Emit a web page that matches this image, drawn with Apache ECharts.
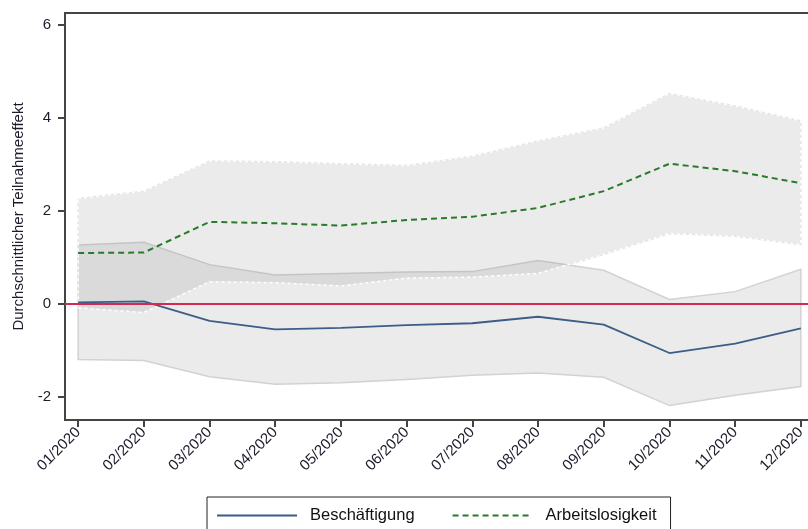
<!DOCTYPE html>
<html>
<head>
<meta charset="utf-8">
<script src="https://cdn.jsdelivr.net/npm/echarts@6/dist/echarts.min.js"></script>
<style>
html,body{margin:0;padding:0;background:#fff;}
#chart{width:808px;height:529px;}
</style>
</head>
<body>
<div id="chart"></div>
<script>
const months = ['01/2020','02/2020','03/2020','04/2020','05/2020','06/2020','07/2020','08/2020','09/2020','10/2020','11/2020','12/2020'];
const beschaeftigung = [0.03, 0.05, -0.37, -0.55, -0.52, -0.46, -0.42, -0.28, -0.45, -1.06, -0.86, -0.53];
const beschLower = [-1.20, -1.22, -1.57, -1.73, -1.70, -1.63, -1.54, -1.49, -1.58, -2.19, -1.97, -1.78];
const beschUpper = [1.26, 1.32, 0.84, 0.62, 0.65, 0.68, 0.69, 0.93, 0.72, 0.09, 0.26, 0.74];
const arbeitslos = [1.09, 1.10, 1.76, 1.73, 1.68, 1.80, 1.87, 2.06, 2.42, 3.01, 2.85, 2.59];
const arbLower = [-0.09, -0.19, 0.47, 0.45, 0.38, 0.55, 0.57, 0.65, 1.06, 1.51, 1.45, 1.27];
const arbUpper = [2.26, 2.42, 3.07, 3.05, 3.01, 2.97, 3.17, 3.50, 3.78, 4.52, 4.25, 3.93];
const yTicks = [-2, 0, 2, 4, 6];

const FONT = "'Liberation Sans', Arial, sans-serif";
const monthIdx = months.map((m, i) => i);

function bandRenderer(lower, upper, dashed) {
  return function (params, api) {
    if (params.dataIndex !== 0) return null;
    const pts = [];
    for (let i = 0; i < upper.length; i++) pts.push(api.coord([i, upper[i]]));
    for (let i = lower.length - 1; i >= 0; i--) pts.push(api.coord([i, lower[i]]));
    if (!dashed) {
      return {
        type: 'polygon',
        shape: { points: pts },
        style: { fill: 'rgba(122,122,122,0.15)', stroke: '#d2d2d2', lineWidth: 1.5 }
      };
    }
    return {
      type: 'group',
      children: [
        { type: 'polygon', shape: { points: pts }, style: { fill: 'rgba(122,122,122,0.15)', stroke: '#e6e6e6', lineWidth: 1.5 } },
        { type: 'polygon', shape: { points: pts }, style: { fill: 'none', stroke: '#ffffff', lineWidth: 1.5, lineDash: [3, 3] } }
      ]
    };
  };
}

const chart = echarts.init(document.getElementById('chart'), null, { renderer: 'canvas' });
chart.setOption({
  animation: false,
  backgroundColor: '#fff',
  textStyle: { fontFamily: FONT },
  grid: { left: 65, top: 13, width: 747, bottom: 109, outerBoundsMode: 'none', containLabel: false, show: true, borderColor: '#444', borderWidth: 2, backgroundColor: 'transparent' },
  legend: {
    data: ['Beschäftigung', 'Arbeitslosigkeit'],
    left: 207, top: 497,
    padding: [10, 14, 10, 9],
    itemWidth: 80, itemHeight: 14, itemGap: 37,
    borderColor: '#222', borderWidth: 1, borderRadius: 0,
    itemStyle: { opacity: 0 },
    textStyle: { fontSize: 16.5, color: '#111', fontFamily: FONT, padding: [0, 0, 0, 8] }
  },
  xAxis: {
    type: 'value', min: -0.2, max: 11.17,
    axisLine: { show: true, onZero: false, lineStyle: { color: '#444', width: 2 } },
    axisTick: { show: true, customValues: monthIdx, length: 7, lineStyle: { color: '#444', width: 2 } },
    axisLabel: { customValues: monthIdx, formatter: v => months[Math.round(v)], rotate: 45, margin: 10, fontSize: 15, color: '#1c1c2c', fontFamily: FONT },
    splitLine: { show: false }
  },
  yAxis: {
    type: 'value', min: -2.5, max: 6.25,
    name: 'Durchschnittlicher Teilnahmeeffekt', nameLocation: 'middle', nameGap: 38,
    nameTextStyle: { fontSize: 15, color: '#1c1c2c', fontFamily: FONT },
    axisLine: { show: true, onZero: false, lineStyle: { color: '#444', width: 2 } },
    axisTick: { show: true, customValues: yTicks, length: 7, lineStyle: { color: '#444', width: 2 } },
    axisLabel: { customValues: yTicks, margin: 14, fontSize: 15, color: '#1c1c2c', fontFamily: FONT },
    splitLine: { show: false }
  },
  series: [
    {
      name: 'bandB', type: 'custom', silent: true,
      renderItem: bandRenderer(beschLower, beschUpper, false),
      data: monthIdx.map(i => [i, beschLower[i], beschUpper[i]]),
      encode: { x: 0, y: [1, 2] }, z: 1
    },
    {
      name: 'bandA', type: 'custom', silent: true,
      renderItem: bandRenderer(arbLower, arbUpper, true),
      data: monthIdx.map(i => [i, arbLower[i], arbUpper[i]]),
      encode: { x: 0, y: [1, 2] }, z: 2
    },
    {
      name: 'Beschäftigung', type: 'line', symbol: 'none', z: 4,
      data: monthIdx.map(i => [i, beschaeftigung[i]]),
      lineStyle: { color: '#3b5d87', width: 1.8 },
      itemStyle: { color: '#3b5d87' },
      markLine: {
        silent: true, symbol: 'none', label: { show: false },
        lineStyle: { color: '#d42a52', width: 2, type: 'solid' },
        data: [{ yAxis: 0 }]
      }
    },
    {
      name: 'Arbeitslosigkeit', type: 'line', symbol: 'none', z: 5,
      data: monthIdx.map(i => [i, arbeitslos[i]]),
      lineStyle: { color: '#2b7a2b', width: 2, type: [6, 4] },
      itemStyle: { color: '#2b7a2b' }
    }
  ]
});
</script>
</body>
</html>
